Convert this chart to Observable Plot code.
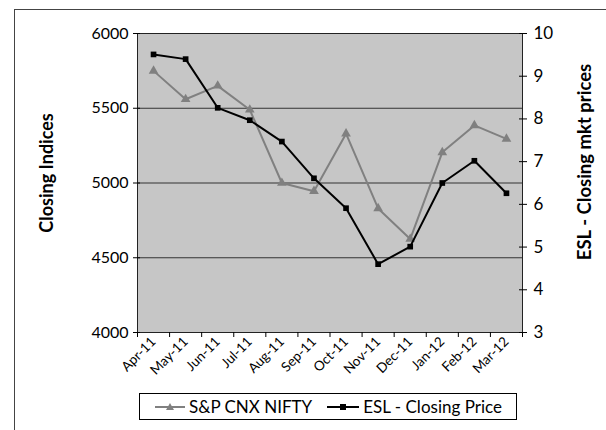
<!DOCTYPE html>
<html>
<head>
<meta charset="utf-8">
<script src="https://cdn.jsdelivr.net/npm/d3@7"></script>
<script src="https://cdn.jsdelivr.net/npm/@observablehq/plot@0.6"></script>
<style>
  html, body { margin: 0; padding: 0; background: #fff; }
  #wrap { position: relative; width: 606px; height: 430px; overflow: hidden; font-family: Lato, sans-serif; }
  #outer { position: absolute; left: 14px; top: 9px; width: 640px; height: 460px; border: 1.5px solid #444; box-sizing: border-box; }
  .layer { position: absolute; left: 0; top: 0; }
  #legend { position: absolute; left: 139px; top: 393px; width: 378px; height: 27px; border: 1px solid #000; box-sizing: border-box;
    display: flex; align-items: center; justify-content: center; gap: 14px; font-size: 17px; color: #000; background: #fff; }
  .item { display: flex; align-items: center; gap: 3px; }
</style>
</head>
<body>
<div id="wrap">
  <div id="outer"></div>
  <div id="p1" class="layer"></div>
  <div id="p2" class="layer"></div>
  <div id="legend">
    <div class="item"><svg width="32" height="12"><line x1="1" y1="6" x2="31" y2="6" stroke="#808080" stroke-width="2"/><path d="M16,2 L20,9 L12,9 Z" fill="#808080"/></svg><span>S&amp;P CNX NIFTY</span></div>
    <div class="item"><svg width="34" height="12"><line x1="1" y1="6" x2="33" y2="6" stroke="#000" stroke-width="2"/><rect x="14" y="3" width="6" height="6" fill="#000"/></svg><span>ESL - Closing Price</span></div>
  </div>
</div>
<script>
const months = ["Apr-11","May-11","Jun-11","Jul-11","Aug-11","Sep-11","Oct-11","Nov-11","Dec-11","Jan-12","Feb-12","Mar-12"];
const nifty = [5750, 5560, 5650, 5490, 5000, 4945, 5330, 4830, 4625, 5205, 5385, 5295];
const esl = [9.51, 9.40, 8.26, 7.97, 7.47, 6.61, 5.91, 4.60, 5.01, 6.50, 7.02, 6.26];
const leftTicks = [4000, 4500, 5000, 5500, 6000];
const gridValues = [4500, 5000, 5500];
const rightTicks = [3, 4, 5, 6, 7, 8, 9, 10];

const data = months.map((m, i) => ({pos: i + 0.5, month: m, nifty: nifty[i], esl: esl[i]}));
const boundaries = d3.range(months.length + 1);
const centers = months.map((m, i) => i + 0.5);

const common = {
  width: 606, height: 390,
  marginLeft: 137, marginRight: 84, marginTop: 33, marginBottom: 58,
  x: {domain: [0, months.length], axis: null},
  style: {fontFamily: "Lato, sans-serif", background: "transparent", color: "#000", overflow: "visible"}
};

const p1 = Plot.plot({
  ...common,
  y: {domain: [4000, 6000], axis: null},
  marks: [
    Plot.frame({fill: "#c6c6c6", stroke: null}),
    Plot.ruleY(gridValues, {stroke: "#333", strokeWidth: 1}),
    Plot.frame({stroke: "#222", strokeWidth: 1}),
    Plot.line(data, {x: "pos", y: "nifty", stroke: "#808080", strokeWidth: 2}),
    Plot.dot(data, {x: "pos", y: "nifty", symbol: "triangle", r: 3.6, fill: "#808080", stroke: null}),
    Plot.axisY({anchor: "left", ticks: leftTicks, tickSize: 7, dx: 3, tickPadding: 5, fontSize: 16, tickFormat: d => String(d), label: null}),
    Plot.axisX({anchor: "bottom", ticks: boundaries, tickSize: 5, tickFormat: () => "", label: null}),
    Plot.axisX({anchor: "bottom", ticks: centers, tickSize: 0, tickPadding: 7, tickRotate: -45, fontSize: 13.5,
      tickFormat: d => months[Math.floor(d)], label: null}),
    Plot.text([0], {frameAnchor: "left", textAnchor: "middle", text: () => "Closing Indices", rotate: -90, dx: -90, dy: -10,
      fontSize: 18, fontWeight: "bold", fill: "#000"})
  ]
});
document.getElementById("p1").appendChild(p1);

const p2 = Plot.plot({
  ...common,
  y: {domain: [3, 10], axis: null},
  marks: [
    Plot.line(data, {x: "pos", y: "esl", stroke: "#000", strokeWidth: 2}),
    Plot.dot(data, {x: "pos", y: "esl", symbol: "square", r: 3.2, fill: "#000", stroke: null}),
    Plot.axisY({anchor: "right", ticks: rightTicks, tickSize: 8, dx: -4, tickPadding: 7, fontSize: 17, tickFormat: d => String(d), label: null}),
    Plot.text([0], {frameAnchor: "right", textAnchor: "middle", text: () => "ESL - Closing mkt prices", rotate: -90, dx: 63, dy: -21,
      fontSize: 18.5, fontWeight: "bold", fill: "#000"})
  ]
});
document.getElementById("p2").appendChild(p2);
</script>
</body>
</html>
